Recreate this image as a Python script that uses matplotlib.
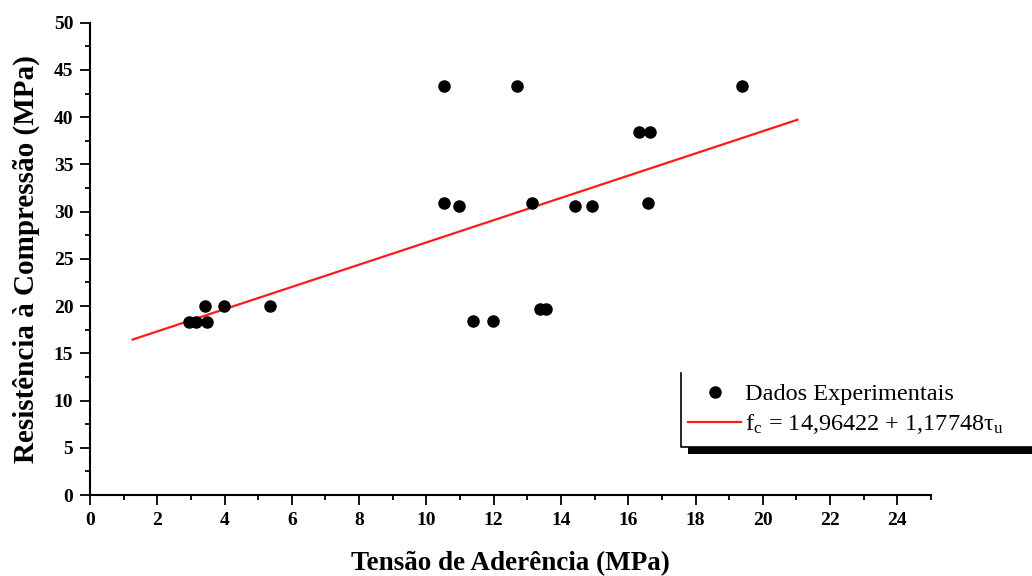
import matplotlib
matplotlib.use("Agg")
import matplotlib.pyplot as plt
from matplotlib.lines import Line2D
from matplotlib.patches import Rectangle
import numpy as np

plt.rcParams['font.family'] = ['Liberation Serif', 'DejaVu Serif']
plt.rcParams['mathtext.fontset'] = 'stix'

# Experimental data: bond stress (MPa) vs compressive strength (MPa)
tensao = [10.52, 12.69, 19.37, 16.31, 16.65,
          10.52, 10.97, 13.13, 14.41, 14.93, 16.59,
          13.39, 13.56, 11.38, 11.97,
          3.42, 3.97, 5.36, 2.95, 3.15, 3.47]
resistencia = [43.3, 43.3, 43.3, 38.4, 38.4,
               30.95, 30.6, 30.95, 30.6, 30.6, 30.95,
               19.7, 19.7, 18.45, 18.45,
               20.0, 20.0, 20.0, 18.35, 18.35, 18.35]

# Linear fit f_c = a + b * tau_u
a_fit = 14.96422
b_fit = 1.17748
fit_x = [1.27, 21.03]
fit_y = [a_fit + b_fit * v for v in fit_x]

xticks = list(range(0, 25, 2))
yticks = list(range(0, 51, 5))

fig = plt.figure(figsize=(10.32, 5.76), dpi=100)
ax = fig.add_axes([90/1032, 1-495/576, (931-90)/1032, (495-22.7)/576])

pts, = ax.plot(tensao, resistencia, 'o', color='black', markersize=8,
               label='Dados Experimentais', zorder=3, clip_on=False)
ln, = ax.plot(fit_x, fit_y, '-', color='#ff1a1a', linewidth=1.6,
              label=r'f$_\mathregular{c}$ = 14,96422 + 1,17748$\mathregular{\tau}_\mathregular{u}$', zorder=2)

ax.set_xlim(0, 25)
ax.set_ylim(0, 50)
ax.set_xticks(xticks)
ax.set_yticks(yticks)
ax.set_xticks(np.arange(0, 25.5, 1), minor=True)
ax.set_yticks(np.arange(0, 50.1, 2.5), minor=True)
ax.spines['top'].set_visible(False)
ax.spines['right'].set_visible(False)
for s in ('left', 'bottom'):
    ax.spines[s].set_linewidth(1.5)
ax.tick_params(which='major', direction='out', length=7, width=1.3, labelsize=14, pad=5)
ax.tick_params(which='minor', direction='out', length=3.5, width=1.3)
for lab in ax.get_xticklabels() + ax.get_yticklabels():
    lab.set_fontweight('bold')

ax.set_xlabel('Tensão de Aderência (MPa)', fontsize=19.5, fontweight='bold', labelpad=16)
ax.set_ylabel('Resistência à Compressão (MPa)', fontsize=21, fontweight='bold', labelpad=10)

leg = ax.legend(handles=[pts, ln], loc='upper left',
                bbox_to_anchor=(688/1032, 1-383/576), bbox_transform=fig.transFigure,
                frameon=False, fontsize=17.5, handlelength=2.2, handletextpad=0.15,
                borderpad=0, borderaxespad=0, labelspacing=0.3)

# legend frame (left and bottom border with shadow)
fig.add_artist(Rectangle((688/1032, 1-454/576), 1.0, 7/576, transform=fig.transFigure,
                         facecolor='black', edgecolor='none', clip_on=False))
fig.add_artist(Line2D([681/1032, 681/1032, 1.0], [1-373/576, 1-447/576, 1-447/576],
                      transform=fig.transFigure, color='black', linewidth=1.2))

fig.savefig('out.png', dpi=100)
